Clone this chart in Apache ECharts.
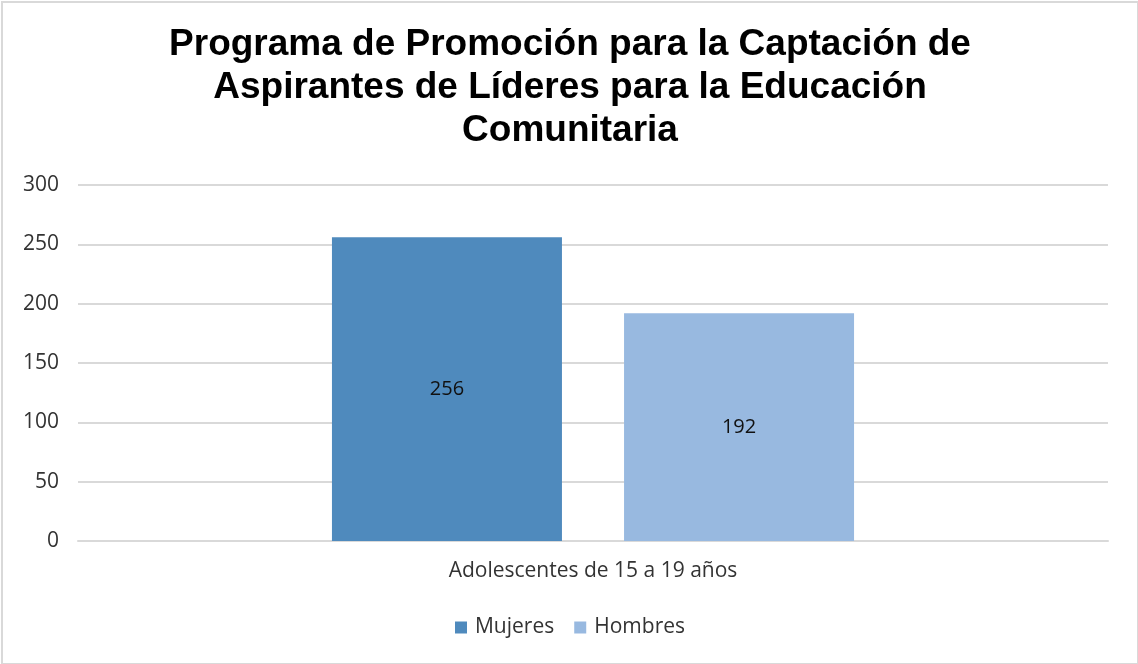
<!DOCTYPE html>
<html>
<head>
<meta charset="utf-8">
<script src="https://cdn.jsdelivr.net/npm/echarts@6/dist/echarts.min.js"></script>
<style>
html,body{margin:0;padding:0;background:#fff;}
#wrap{position:absolute;left:1px;top:1px;width:1134px;height:660px;border:2px solid #d9d9d9;box-sizing:content-box;}
#chart{width:1134px;height:660px;}
</style>
</head>
<body>
<div id="wrap"><div id="chart"></div></div>
<script>
const titleText = "Programa de Promoción para la Captación de\nAspirantes de Líderes para la Educación\nComunitaria";
const categories = ["Adolescentes de 15 a 19 años"];
const seriesNames = ["Mujeres", "Hombres"];
const mujeres = [256];
const hombres = [192];
const yTicks = [0, 50, 100, 150, 200, 250, 300];
const colors = ["#4f8abd", "#98b9e0"];

const chart = echarts.init(document.getElementById('chart'));
const labelStyle = {show: true, position: 'inside', color: '#111', fontSize: 20, fontFamily: 'Open Sans'};
chart.setOption({
  animation: false,
  title: {
    text: titleText, left: 'center', top: 15,
    textStyle: {fontFamily: 'Liberation Sans', fontWeight: 'bold', fontSize: 37, lineHeight: 43, color: '#000'}
  },
  legend: {
    bottom: 20, left: 'center', itemWidth: 12, itemHeight: 12, itemGap: 20, icon: 'rect',
    textStyle: {fontFamily: 'Open Sans', fontSize: 21, color: '#333', padding: [0, 0, 0, 3]},
    data: seriesNames
  },
  grid: {left: 75, right: 29, top: 182, bottom: 122, containLabel: false},
  xAxis: {
    type: 'category', data: categories,
    axisLine: {lineStyle: {color: '#d9d9d9', width: 2}}, axisTick: {show: false},
    axisLabel: {fontFamily: 'Open Sans', fontSize: 21, color: '#333', margin: 20}
  },
  yAxis: {
    type: 'value', min: yTicks[0], max: yTicks[yTicks.length-1], interval: 50,
    axisLine: {show: false}, axisTick: {show: false},
    splitLine: {lineStyle: {color: '#d9d9d9', width: 2}},
    axisLabel: {fontFamily: 'Open Sans', fontSize: 21, color: '#333', margin: 19}
  },
  series: [
    {name: seriesNames[0], type: 'bar', data: mujeres, barWidth: 230, barGap: '27%', itemStyle: {color: colors[0]}, label: labelStyle},
    {name: seriesNames[1], type: 'bar', data: hombres, barWidth: 230, itemStyle: {color: colors[1]}, label: labelStyle}
  ]
});
</script>
</body>
</html>
